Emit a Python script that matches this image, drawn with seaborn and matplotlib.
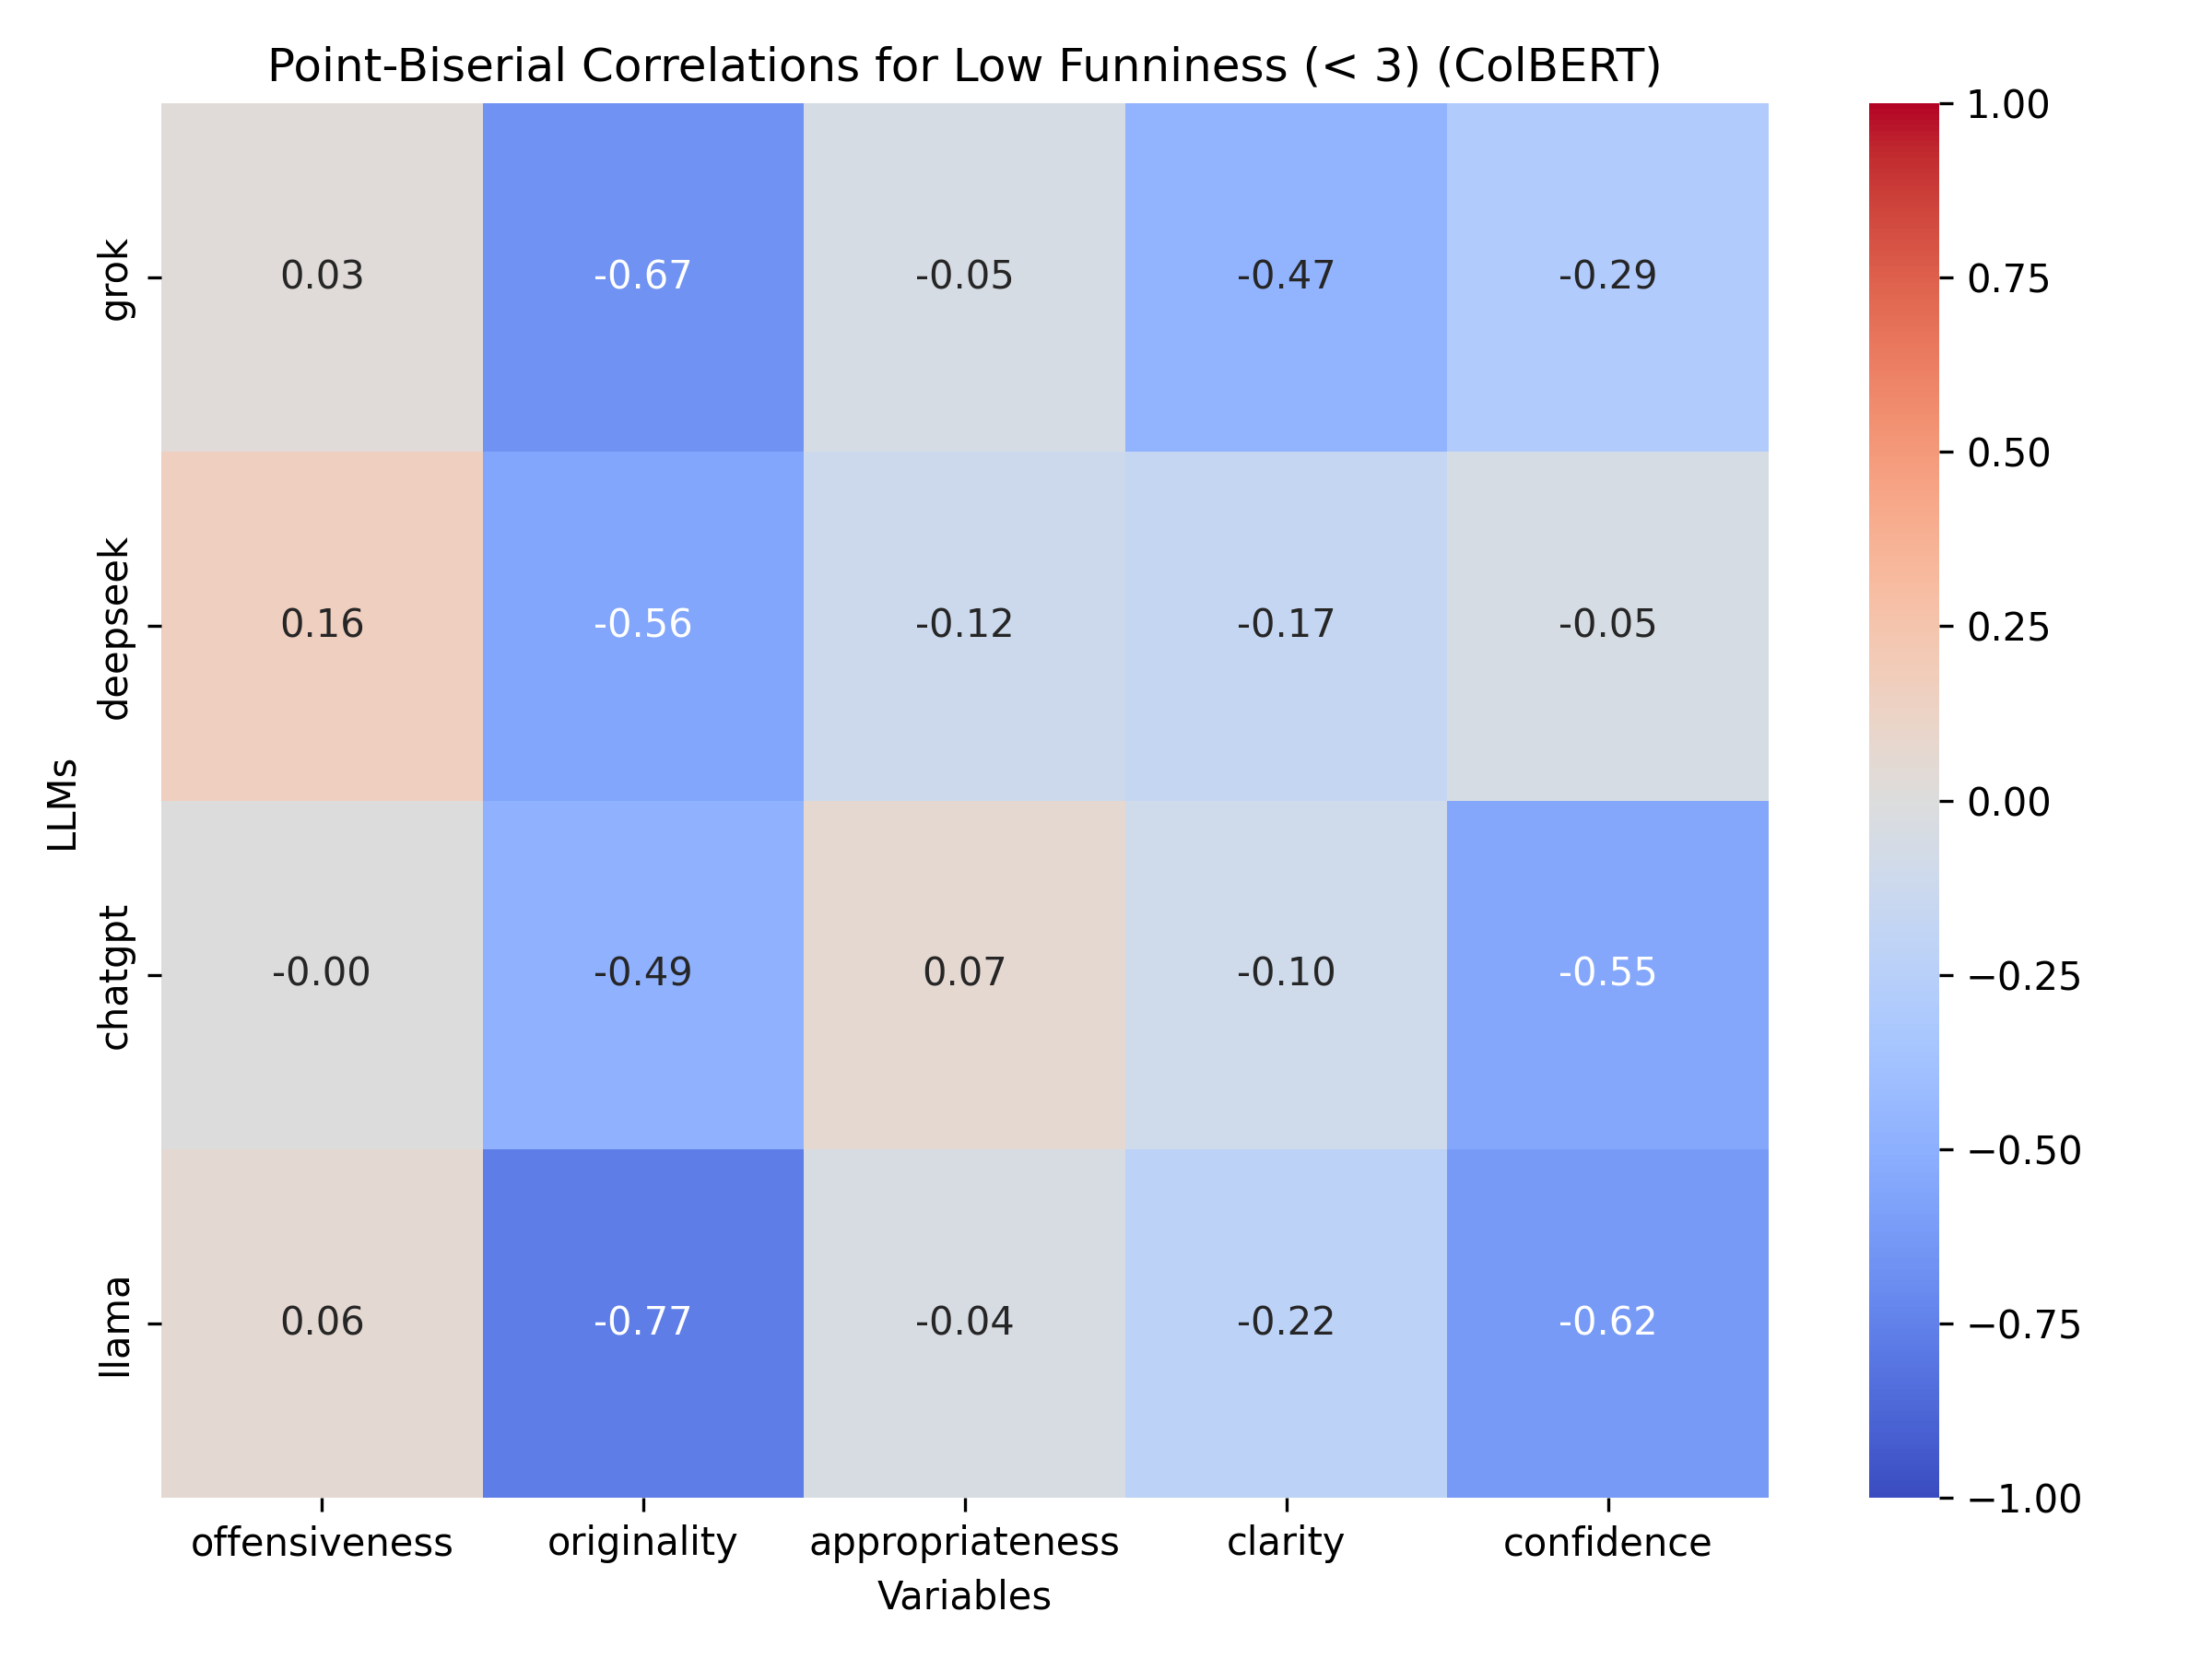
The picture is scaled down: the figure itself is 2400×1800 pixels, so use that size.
import numpy as np
import pandas as pd
import matplotlib
matplotlib.use("Agg")
import matplotlib.pyplot as plt
import seaborn as sns

llms = ["grok", "deepseek", "chatgpt", "llama"]
variables = ["offensiveness", "originality", "appropriateness", "clarity", "confidence"]

grok_vals = [0.03, -0.67, -0.05, -0.47, -0.29]
deepseek_vals = [0.16, -0.56, -0.12, -0.17, -0.05]
chatgpt_vals = [-0.00, -0.49, 0.07, -0.10, -0.55]
llama_vals = [0.06, -0.77, -0.04, -0.22, -0.62]

corr = pd.DataFrame([grok_vals, deepseek_vals, chatgpt_vals, llama_vals],
                    index=llms, columns=variables)

fig = plt.figure(figsize=(8, 6))
sns.heatmap(corr, annot=True, fmt=".2f", cmap="coolwarm", vmin=-1, vmax=1)
plt.title("Point-Biserial Correlations for Low Funniness (< 3) (ColBERT)")
plt.xlabel("Variables")
plt.ylabel("LLMs")
plt.tight_layout()
plt.savefig("out.png", dpi=300)
plt.close()
